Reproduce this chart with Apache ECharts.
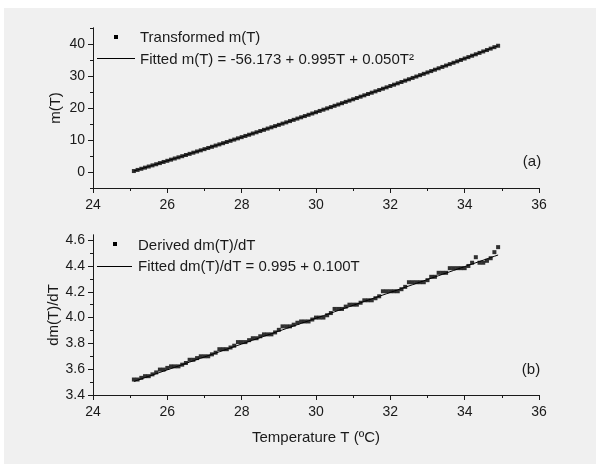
<!DOCTYPE html>
<html>
<head>
<meta charset="utf-8">
<title>m(T) and dm(T)/dT versus temperature</title>
<script src="https://cdn.jsdelivr.net/npm/echarts@6/dist/echarts.min.js"></script>
<style>
  html, body { margin: 0; padding: 0; background: #ffffff; }
  #chart { position: absolute; left: 4px; top: 8px; width: 592px; height: 456px; }
</style>
</head>
<body>
<div id="chart"></div>
<script>
// Temperature samples (°C)
var temperatures = [
  25.1, 25.2, 25.3, 25.4, 25.5, 25.6, 25.7, 25.8, 25.9, 26.0,
  26.1, 26.2, 26.3, 26.4, 26.5, 26.6, 26.7, 26.8, 26.9, 27.0,
  27.1, 27.2, 27.3, 27.4, 27.5, 27.6, 27.7, 27.8, 27.9, 28.0,
  28.1, 28.2, 28.3, 28.4, 28.5, 28.6, 28.7, 28.8, 28.9, 29.0,
  29.1, 29.2, 29.3, 29.4, 29.5, 29.6, 29.7, 29.8, 29.9, 30.0,
  30.1, 30.2, 30.3, 30.4, 30.5, 30.6, 30.7, 30.8, 30.9, 31.0,
  31.1, 31.2, 31.3, 31.4, 31.5, 31.6, 31.7, 31.8, 31.9, 32.0,
  32.1, 32.2, 32.3, 32.4, 32.5, 32.6, 32.7, 32.8, 32.9, 33.0,
  33.1, 33.2, 33.3, 33.4, 33.5, 33.6, 33.7, 33.8, 33.9, 34.0,
  34.1, 34.2, 34.3, 34.4, 34.5, 34.6, 34.7, 34.8, 34.9
];

// Transformed m(T)
var transformedM = [
  0.30, 0.65, 1.01, 1.36, 1.71, 2.07, 2.42, 2.78, 3.14, 3.50,
  3.86, 4.22, 4.58, 4.94, 5.31, 5.67, 6.04, 6.41, 6.77, 7.14,
  7.51, 7.88, 8.26, 8.63, 9.00, 9.38, 9.75, 10.13, 10.51, 10.89,
  11.27, 11.65, 12.03, 12.41, 12.80, 13.18, 13.57, 13.96, 14.34, 14.73,
  15.12, 15.51, 15.91, 16.30, 16.69, 17.09, 17.48, 17.88, 18.28, 18.68,
  19.08, 19.48, 19.88, 20.28, 20.69, 21.09, 21.50, 21.91, 22.31, 22.72,
  23.13, 23.54, 23.96, 24.37, 24.78, 25.20, 25.61, 26.03, 26.45, 26.87,
  27.29, 27.71, 28.13, 28.55, 28.98, 29.40, 29.83, 30.26, 30.68, 31.11,
  31.54, 31.97, 32.41, 32.84, 33.27, 33.71, 34.14, 34.58, 35.02, 35.46,
  35.90, 36.34, 36.78, 37.22, 37.67, 38.11, 38.56, 39.01, 39.45
];

// Derived dm(T)/dT
var derivedDm = [
  3.520, 3.520, 3.533, 3.546, 3.546, 3.560, 3.575, 3.597, 3.597, 3.610,
  3.622, 3.622, 3.622, 3.635, 3.648, 3.673, 3.673, 3.686, 3.700, 3.700,
  3.700, 3.715, 3.728, 3.755, 3.755, 3.755, 3.768, 3.782, 3.810, 3.810,
  3.810, 3.825, 3.840, 3.840, 3.855, 3.870, 3.870, 3.870, 3.885, 3.905,
  3.932, 3.932, 3.932, 3.945, 3.960, 3.970, 3.970, 3.970, 3.985, 4.000,
  4.000, 4.000, 4.018, 4.035, 4.067, 4.067, 4.067, 4.085, 4.100, 4.100,
  4.100, 4.115, 4.134, 4.134, 4.134, 4.150, 4.165, 4.204, 4.204, 4.204,
  4.204, 4.204, 4.220, 4.238, 4.274, 4.274, 4.274, 4.274, 4.274, 4.290,
  4.316, 4.316, 4.347, 4.347, 4.347, 4.383, 4.383, 4.383, 4.383, 4.383,
  4.400, 4.425, 4.468, 4.425, 4.425, 4.440, 4.460, 4.507, 4.546
];

// Fit coefficients as printed in the legend
var fitMCoef = [-56.173, 0.995, 0.050];   // m(T) = a + bT + cT^2
var fitDmCoef = [0.995, 0.100];           // dm/dT = a + bT

// Tick positions
var xMajorTicks = [24, 26, 28, 30, 32, 34, 36];
var mMajorTicks = [0, 10, 20, 30, 40];
var mMinorTicks = [-5, 5, 15, 25, 35, 45];
var dmMajorTicks = [3.4, 3.6, 3.8, 4.0, 4.2, 4.4, 4.6];
var dmMinorTicks = [3.5, 3.7, 3.9, 4.1, 4.3, 4.5];

var FONT = "'Liberation Sans', Arial, Helvetica, sans-serif";
var INK = '#1a1a1a';

function zip(xs, ys) {
  return xs.map(function (x, i) { return [x, ys[i]]; });
}

var fitMLine = temperatures.map(function (t) {
  return [t, fitMCoef[0] + fitMCoef[1] * t + fitMCoef[2] * t * t];
});
var fitDmLine = temperatures.map(function (t) {
  return [t, fitDmCoef[0] + fitDmCoef[1] * t];
});

function xAxisCfg(gridIndex, withName) {
  var cfg = {
    type: 'value', gridIndex: gridIndex, min: 24, max: 36, interval: 2,
    axisLine: { show: true, onZero: false, lineStyle: { color: INK, width: 1 } },
    axisTick: { show: true, length: 5, customValues: xMajorTicks, lineStyle: { color: INK } },
    minorTick: { show: true, splitNumber: 2, length: 3, lineStyle: { color: INK } },
    splitLine: { show: false },
    axisLabel: { color: INK, fontFamily: FONT, fontSize: 14, margin: 10, customValues: xMajorTicks }
  };
  if (withName) {
    cfg.name = 'Temperature T (\u00baC)';
    cfg.nameLocation = 'middle';
    cfg.nameGap = 35;
    cfg.nameMoveOverlap = false;
    cfg.nameTextStyle = { color: INK, fontFamily: FONT, fontSize: 15 };
  }
  return cfg;
}

function yMainCfg(gridIndex, min, max, ticks, name, gap, fmt) {
  return {
    type: 'value', gridIndex: gridIndex, position: 'left', min: min, max: max,
    axisLine: { show: true, onZero: false, lineStyle: { color: INK, width: 1 } },
    axisTick: { show: true, length: 5, customValues: ticks, lineStyle: { color: INK } },
    splitLine: { show: false },
    axisLabel: { color: INK, fontFamily: FONT, fontSize: 14, margin: 8,
                 customValues: ticks, formatter: fmt },
    name: name, nameLocation: 'middle', nameGap: gap, nameMoveOverlap: false,
    nameTextStyle: { color: INK, fontFamily: FONT, fontSize: 15 }
  };
}

function yMinorCfg(gridIndex, min, max, ticks) {
  return {
    type: 'value', gridIndex: gridIndex, position: 'left', offset: 0, min: min, max: max,
    axisLine: { show: true, onZero: false, lineStyle: { color: INK, width: 1 } },
    axisTick: { show: true, length: 3, customValues: ticks, lineStyle: { color: INK } },
    axisLabel: { show: false, customValues: ticks },
    splitLine: { show: false }
  };
}

var chart = echarts.init(document.getElementById('chart'), null, { renderer: 'canvas' });

chart.setOption({
  backgroundColor: '#f0f0f0',
  animation: false,
  textStyle: { fontFamily: FONT },
  grid: [
    { left: 89, top: 20, width: 446, height: 160 },
    { left: 89, top: 227, width: 446, height: 160 }
  ],
  xAxis: [xAxisCfg(0, false), xAxisCfg(1, true)],
  yAxis: [
    yMainCfg(0, -5, 45, mMajorTicks, 'm(T)', 30, function (v) { return String(v); }),
    yMinorCfg(0, -5, 45, mMinorTicks),
    yMainCfg(1, 3.4, 4.64, dmMajorTicks, 'dm(T)/dT', 32, function (v) { return v.toFixed(1); }),
    yMinorCfg(1, 3.4, 4.64, dmMinorTicks)
  ],
  series: [
    {
      name: 'Fitted m(T)', type: 'line', xAxisIndex: 0, yAxisIndex: 0,
      data: fitMLine, showSymbol: false, z: 2,
      lineStyle: { color: '#000', width: 1 }
    },
    {
      name: 'Transformed m(T)', type: 'scatter', xAxisIndex: 0, yAxisIndex: 0,
      data: zip(temperatures, transformedM), symbol: 'rect', symbolSize: 4, z: 3,
      itemStyle: { color: '#000' }
    },
    {
      name: 'Fitted dm(T)/dT', type: 'line', xAxisIndex: 1, yAxisIndex: 2,
      data: fitDmLine, showSymbol: false, z: 2,
      lineStyle: { color: '#000', width: 1 }
    },
    {
      name: 'Derived dm(T)/dT', type: 'scatter', xAxisIndex: 1, yAxisIndex: 2,
      data: zip(temperatures, derivedDm), symbol: 'rect', symbolSize: 4, z: 3,
      itemStyle: { color: '#000' }
    }
  ],
  graphic: [
    // legend, panel (a)
    { type: 'rect', shape: { x: 110, y: 27, width: 4, height: 4 }, style: { fill: '#000' } },
    { type: 'text', x: 136, y: 30, style: { text: 'Transformed m(T)', fill: INK,
      font: '15px ' + FONT, verticalAlign: 'middle' } },
    { type: 'line', shape: { x1: 93, y1: 50.5, x2: 131, y2: 50.5 }, style: { stroke: '#000', lineWidth: 1 } },
    { type: 'text', x: 136, y: 51.5, style: { text: 'Fitted m(T) = -56.173 + 0.995T + 0.050T\u00b2', fill: INK,
      font: '15px ' + FONT, verticalAlign: 'middle' } },
    { type: 'text', x: 528, y: 154, style: { text: '(a)', fill: INK, font: '15px ' + FONT,
      align: 'center', verticalAlign: 'middle' } },
    // legend, panel (b)
    { type: 'rect', shape: { x: 109, y: 234, width: 4, height: 4 }, style: { fill: '#000' } },
    { type: 'text', x: 134, y: 238, style: { text: 'Derived dm(T)/dT', fill: INK,
      font: '15px ' + FONT, verticalAlign: 'middle' } },
    { type: 'line', shape: { x1: 93, y1: 258.5, x2: 128, y2: 258.5 }, style: { stroke: '#000', lineWidth: 1 } },
    { type: 'text', x: 134, y: 259, style: { text: 'Fitted dm(T)/dT = 0.995 + 0.100T', fill: INK,
      font: '15px ' + FONT, verticalAlign: 'middle' } },
    { type: 'text', x: 527, y: 362, style: { text: '(b)', fill: INK, font: '15px ' + FONT,
      align: 'center', verticalAlign: 'middle' } }
  ]
});
</script>
</body>
</html>
